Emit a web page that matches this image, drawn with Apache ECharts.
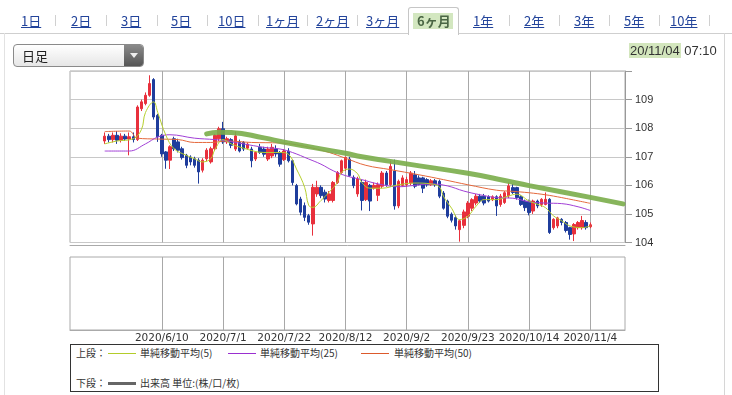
<!DOCTYPE html>
<html><head><meta charset="utf-8">
<script src="https://cdn.jsdelivr.net/npm/echarts@6/dist/echarts.min.js"></script>
<style>
html,body{margin:0;padding:0;background:#fff;}
#wrap{position:relative;width:732px;height:395px;overflow:hidden;font-family:"Noto Sans CJK JP","Noto Sans",sans-serif;}
#chart{position:absolute;left:0;top:0;width:732px;height:395px;}
.tab{position:absolute;top:12px;font-size:13px;line-height:18px;color:#23449b;text-decoration:underline;white-space:nowrap;z-index:3;}
.sep{position:absolute;top:15px;width:1px;height:11px;background:#d0d0d0;z-index:3;}
#hline{position:absolute;left:0;top:33px;width:732px;height:1px;background:#cfcfcf;z-index:2;}
#lborder{position:absolute;left:4px;top:33px;width:1px;height:362px;background:#e2e2e2;z-index:2;}
#rborder{position:absolute;left:724px;top:33px;width:1px;height:362px;background:#d6d6d6;z-index:2;}
#seltab{position:absolute;left:408px;top:7px;width:49px;height:27px;border:1px solid #c6c6c6;border-bottom:none;border-radius:3px 3px 0 0;background:#fff;z-index:3;}
#selhl{position:absolute;left:413px;top:13px;width:40px;height:16px;background:#d3e7c0;z-index:3;}
#seltxt{position:absolute;left:417px;top:12px;font-size:13px;line-height:18px;font-weight:bold;color:#4a6644;z-index:4;white-space:nowrap;}
#dd{position:absolute;left:13px;top:44px;width:129px;height:21px;border:1px solid #8a8a8a;border-radius:4px;background:linear-gradient(#ffffff,#e6e6e6);z-index:3;overflow:hidden;}
#ddtxt{position:absolute;left:8px;top:1px;font-size:13px;line-height:19px;color:#222;}
#ddbtn{position:absolute;right:0;top:0;width:19px;height:21px;background:linear-gradient(#8a8a8a,#555);}
#ddarr{position:absolute;left:6px;top:8px;width:0;height:0;border-left:4px solid transparent;border-right:4px solid transparent;border-top:5px solid #eee;}
#ts{position:absolute;left:629px;top:42px;font-family:"Liberation Sans",Arial,sans-serif;font-size:13px;line-height:17px;color:#333;z-index:3;white-space:nowrap;}
#ts span{background:#d3e6bd;padding:0 1px;}
#legend{position:absolute;left:70px;top:344px;width:587px;height:46px;border:1px solid #333;background:#fff;z-index:3;font-size:10px;color:#333;}
.lt{position:absolute;white-space:nowrap;line-height:12px;}
.ll{position:absolute;height:1px;width:28px;}
</style>
</head><body>
<div id="wrap">
<div id="chart"></div>
<div id="hline"></div><div id="lborder"></div><div id="rborder"></div>
<div id="tabs"></div>
<div id="seltab"></div><div id="selhl"></div><div id="seltxt">6ヶ月</div>
<div id="dd"><div id="ddtxt">日足</div><div id="ddbtn"><div id="ddarr"></div></div></div>
<div id="ts"><span>20/11/04</span> 07:10</div>
<div id="legend">
  <div class="lt" style="left:5px;top:2px;">上段：</div>
  <div class="ll" style="left:37px;top:8px;background:#b3cc2a;"></div>
  <div class="lt" style="left:69px;top:2px;">単純移動平均(5)</div>
  <div class="ll" style="left:157px;top:8px;background:#9a2fd0;"></div>
  <div class="lt" style="left:189px;top:2px;">単純移動平均(25)</div>
  <div class="ll" style="left:290px;top:8px;background:#dc5a2c;"></div>
  <div class="lt" style="left:323px;top:2px;">単純移動平均(50)</div>
  <div class="lt" style="left:5px;top:32px;">下段：</div>
  <div class="ll" style="left:37px;top:37px;height:3px;background:#666;"></div>
  <div class="lt" style="left:69px;top:32px;">出来高 単位:(株/口/枚)</div>
</div>
</div>
<script>
// ---- data ----
const tabLabels = ['1日','2日','3日','5日','10日','1ヶ月','2ヶ月','3ヶ月','6ヶ月','1年','2年','3年','5年','10年'];
const categories = [
'2020/5/11','2020/5/12','2020/5/13','2020/5/14','2020/5/15','2020/5/18','2020/5/19','2020/5/20','2020/5/21','2020/5/22',
'2020/5/25','2020/5/26','2020/5/27','2020/5/28','2020/5/29',
'2020/6/1','2020/6/2','2020/6/3','2020/6/4','2020/6/5','2020/6/8','2020/6/9','2020/6/10','2020/6/11','2020/6/12',
'2020/6/15','2020/6/16','2020/6/17','2020/6/18','2020/6/19','2020/6/22','2020/6/23','2020/6/24','2020/6/25','2020/6/26',
'2020/6/29','2020/6/30',
'2020/7/1','2020/7/2','2020/7/3','2020/7/6','2020/7/7','2020/7/8','2020/7/9','2020/7/10','2020/7/13','2020/7/14',
'2020/7/15','2020/7/16','2020/7/17','2020/7/20','2020/7/21','2020/7/22','2020/7/23','2020/7/24','2020/7/27','2020/7/28',
'2020/7/29','2020/7/30','2020/7/31',
'2020/8/3','2020/8/4','2020/8/5','2020/8/6','2020/8/7','2020/8/10','2020/8/11','2020/8/12','2020/8/13','2020/8/14',
'2020/8/17','2020/8/18','2020/8/19','2020/8/20','2020/8/21','2020/8/24','2020/8/25','2020/8/26','2020/8/27','2020/8/28',
'2020/8/31',
'2020/9/1','2020/9/2','2020/9/3','2020/9/4','2020/9/7','2020/9/8','2020/9/9','2020/9/10','2020/9/11','2020/9/14',
'2020/9/15','2020/9/16','2020/9/17','2020/9/18','2020/9/21','2020/9/22','2020/9/23','2020/9/24','2020/9/25','2020/9/28',
'2020/9/29','2020/9/30',
'2020/10/1','2020/10/2','2020/10/5','2020/10/6','2020/10/7','2020/10/8','2020/10/9','2020/10/12','2020/10/13','2020/10/14',
'2020/10/15','2020/10/16','2020/10/19','2020/10/20','2020/10/21','2020/10/22','2020/10/23','2020/10/26','2020/10/27','2020/10/28',
'2020/10/29','2020/10/30',
'2020/11/2','2020/11/3','2020/11/4','2020/11/5','2020/11/6','2020/11/9','2020/11/10','2020/11/11','2020/11/12','2020/11/13',
'2020/11/16'
];
const tickDates = ['2020/6/10','2020/7/1','2020/7/22','2020/8/12','2020/9/2','2020/9/23','2020/10/14','2020/11/4'];
const priceTicks = [104,105,106,107,108,109];
const candleStart = '2020/5/21';
// [open, close, low, high]
const ohlc = [
[107.55,107.72,107.45,107.85],[107.72,107.60,107.50,107.80],[107.60,107.75,107.50,107.85],[107.75,107.58,107.45,107.90],
[107.58,107.72,107.50,107.82],[107.72,107.62,107.55,107.80],[107.62,107.70,107.05,107.85],[107.70,107.60,107.50,107.85],
[107.60,108.74,107.55,108.80],[108.68,108.92,108.60,109.00],[108.86,109.15,108.80,109.25],[109.15,109.56,109.10,109.85],
[109.70,108.39,108.30,109.75],[108.45,107.70,107.52,108.50],[107.75,107.10,107.00,107.80],[107.17,106.88,106.58,107.20],
[106.88,107.35,106.57,107.40],
[107.63,107.28,107.20,107.70],[107.52,107.23,107.15,107.63],[107.28,106.97,106.90,107.35],[107.05,106.70,106.60,107.10],
[106.99,106.82,106.70,107.05],[106.93,106.70,106.62,107.00],[106.88,106.47,106.06,106.95],[106.53,106.88,106.45,106.95],
[106.93,107.23,106.85,107.30],[106.82,107.28,106.76,107.35],[107.28,107.75,107.20,107.80],[107.63,107.98,107.55,108.05],
[107.98,107.52,107.45,108.22],[107.52,107.63,107.45,107.70],
[107.60,107.40,107.30,107.65],[107.27,107.73,107.20,107.88],[107.50,107.20,107.15,107.60],[107.50,107.27,107.20,107.55],
[107.30,107.44,107.25,107.50],[107.27,106.86,106.63,107.35],[106.92,107.15,106.85,107.20],[107.33,107.15,107.10,107.45],
[107.27,107.09,107.00,107.35],[106.92,107.27,106.85,107.35],[107.03,107.33,106.95,107.45],[107.27,107.10,107.00,107.40],
[107.15,106.74,106.65,107.20],[106.90,107.20,106.85,107.27],[107.20,106.86,106.80,107.30],
[106.86,106.10,106.00,106.90],[105.99,105.35,105.30,106.05],[105.52,105.06,104.95,105.60],[105.29,104.88,104.75,105.40],
[104.94,104.71,104.62,105.00],[104.65,105.93,104.24,106.05],[105.70,105.93,105.60,106.16],[105.93,105.64,105.55,106.00],
[105.76,105.52,105.40,105.85],[105.47,105.70,105.40,105.80],[105.47,106.10,105.40,106.15],[106.10,106.45,106.05,106.50],
[106.45,106.86,106.40,106.90],[106.60,106.98,106.50,107.00],[106.92,106.34,106.30,107.00],[106.28,105.99,105.90,106.35],
[105.70,106.22,105.60,106.30],[106.10,105.47,105.12,106.20],
[105.50,106.10,105.45,106.20],[106.00,105.45,105.10,106.05],[105.90,106.00,105.85,106.10],[105.65,106.02,105.45,106.10],
[105.97,106.43,105.90,106.50],[106.43,106.02,105.95,106.50],[106.02,106.66,105.95,106.86],[106.50,105.28,105.15,106.90],
[105.28,106.14,105.20,106.20],[106.00,106.26,105.95,106.35],[106.02,106.20,105.95,106.30],[106.08,106.43,106.00,106.50],
[106.37,105.97,105.90,106.50],[106.26,106.03,106.00,106.35],[106.26,105.90,105.73,106.30],[106.20,106.02,105.95,106.25],
[106.02,106.16,105.98,106.22],[106.16,106.02,105.95,106.22],[106.14,105.62,105.55,106.20],[105.73,105.20,105.15,105.80],
[105.45,104.92,104.85,105.50],[104.99,104.78,104.70,105.05],[104.87,104.58,104.45,104.95],[104.45,104.76,104.03,104.80],
[104.60,105.07,104.50,105.15],
[104.92,105.38,104.85,105.45],[105.20,105.50,105.10,105.55],[105.38,105.62,105.30,105.70],[105.62,105.45,105.38,105.70],
[105.62,105.38,105.30,105.70],[105.60,105.45,105.40,105.65],[105.50,105.60,105.45,105.65],[105.60,105.28,104.93,105.65],
[105.33,105.62,105.25,105.70],[105.40,105.74,105.35,105.80],[105.63,105.98,105.55,106.10],[105.92,105.75,105.70,106.05],
[105.92,105.57,105.50,105.95],[105.60,105.33,105.28,105.65],[105.45,105.22,105.10,105.50],[105.45,105.05,104.95,105.50],
[105.10,105.45,105.00,105.50],[105.45,105.28,105.20,105.50],[105.33,105.51,105.25,105.55],[105.33,105.51,105.30,105.75],
[105.51,104.35,104.30,105.55],[104.52,104.81,104.45,104.85],[104.58,104.86,104.50,104.90],[104.81,104.70,104.60,104.85],
[104.70,104.42,104.35,104.75],[104.52,104.28,104.10,104.55],[104.30,104.63,104.05,104.68],[104.52,104.70,104.45,104.75],
[104.52,104.77,104.45,104.93],[104.70,104.52,104.45,104.78],[104.55,104.62,104.50,104.70]
];
// moving averages: [category index, value]
const ma5 = [[8,107.45],[11,107.55],[15,107.63],[17,107.95],[18,108.55],[20,108.92],[21,108.55],[23,107.75],[25,107.28],
[28,107.05],[30,106.93],[32,106.82],[34,106.93],[35,107.25],[37,107.6],[39,107.45],[42,107.3],[47,107.15],[51,107.15],
[53,107.09],[55,106.57],[57,105.93],[58,105.3],[59,105.23],[61,105.47],[63,105.76],[65,106.1],[66,106.45],[68,106.57],
[70,106.4],[71,106.1],[73,105.9],[76,105.9],[80,106.02],[84,106.08],[88,106.05],[90,105.95],[91,105.62],[93,105.2],
[95,104.8],[97,104.92],[99,105.27],[101,105.5],[104,105.5],[107,105.63],[109,105.69],[112,105.45],[114,105.34],
[116,105.22],[118,104.93],[120,104.76],[122,104.58],[125,104.52],[127,104.58]];
const ma25 = [[8,107.2],[14,107.2],[18,107.45],[21,107.69],[24,107.77],[30,107.65],[35,107.6],[38,107.55],[42,107.45],
[47,107.33],[51,107.27],[54,107.15],[58,106.92],[61,106.74],[64,106.51],[67,106.34],[71,106.2],[75,106.05],[80,105.95],
[84,106.0],[88,106.05],[92,105.98],[96,105.8],[100,105.67],[104,105.57],[108,105.55],[112,105.42],[116,105.38],
[120,105.36],[124,105.25],[127,105.12]];
const ma50 = [[8,107.88],[14,107.9],[16,107.65],[21,107.62],[26,107.6],[30,107.5],[34,107.5],[38,107.55],[44,107.5],
[51,107.48],[55,107.42],[59,107.3],[63,107.15],[67,106.95],[72,106.7],[78,106.55],[85,106.37],[91,106.2],[97,106.02],
[104,105.83],[108,105.79],[112,105.74],[116,105.67],[120,105.57],[127,105.37]];
const trend = [[33,107.8],[36,107.86],[39,107.85],[47,107.66],[52,107.51],[67,107.12],[71,107.0],[82,106.75],[97,106.42],
[106,106.17],[112,105.99],[127,105.58],[135,105.35]];

// ---- html tabs ----
const tabX = [21,71,121,171,218,266,316,366,417,473,524,574,624,670];
const sepX = [55,106,157,207,258,307,357,509,559,609,659,709];
const tabsEl = document.getElementById('tabs');
tabLabels.forEach((t,i)=>{ if(t==='6ヶ月') return; const d=document.createElement('div'); d.className='tab'; d.style.left=tabX[i]+'px'; d.textContent=t; tabsEl.appendChild(d);});
sepX.forEach(x=>{const d=document.createElement('div'); d.className='sep'; d.style.left=x+'px'; tabsEl.appendChild(d);});

// ---- chart ----
const startIdx = categories.indexOf(candleStart);
const candleData = categories.map((c,i)=>{ const k=i-startIdx; return (k>=0 && k<ohlc.length)? ohlc[k] : '-'; });
const showTick = (idx)=> tickDates.indexOf(categories[idx])>=0;

const chart = echarts.init(document.getElementById('chart'), null, {renderer:'canvas'});
const xCommon = {
  type:'category', data:categories, boundaryGap:true,
  axisTick:{show:false},
  splitLine:{show:true, interval:(idx)=>showTick(idx), alignWithLabel:true, lineStyle:{color:'#a8a8a8', width:1}}
};
chart.setOption({
  animation:false,
  backgroundColor:'transparent',
  grid:[
    {left:70, right:107, top:71, bottom:152.5, show:true, borderColor:'#aaa', borderWidth:1},
    {left:70, right:107, top:257, bottom:65, show:true, borderColor:'#aaa', borderWidth:1}
  ],
  xAxis:[
    Object.assign({}, xCommon, {gridIndex:0, axisLabel:{show:false}, offset:3, axisLine:{show:true, lineStyle:{color:'#aaa'}}}),
    Object.assign({}, xCommon, {gridIndex:1, axisLine:{show:true, lineStyle:{color:'#aaa'}},
      axisLabel:{show:true, interval:(idx)=>showTick(idx), color:'#333', fontSize:10.5, fontFamily:'DejaVu Sans', margin:3}})
  ],
  yAxis:[
    {type:'value', gridIndex:0, position:'right', min:priceTicks[0], max:110, interval:1, scale:true,
     axisLine:{show:true, lineStyle:{color:'#999'}},
     axisTick:{show:true, length:7, lineStyle:{color:'#999'}},
     axisLabel:{color:'#333', fontSize:11, fontFamily:'Liberation Sans', margin:10,
       formatter:(v)=> priceTicks.indexOf(v)>=0 ? String(v) : ''},
     splitLine:{show:true, lineStyle:{color:'#c8c8c8'}}},
    {type:'value', gridIndex:1, min:0, max:1, show:false, splitLine:{show:false}}
  ],
  series:[
    {type:'candlestick', xAxisIndex:0, yAxisIndex:0, data:candleData, barWidth:3,
     itemStyle:{color:'#e8303c', color0:'#1f3d9c', borderColor:'#e8303c', borderColor0:'#1f3d9c', borderWidth:1}},
    {type:'line', xAxisIndex:0, yAxisIndex:0, data:ma50, showSymbol:false, smooth:0.4,
     lineStyle:{color:'#e4683c', width:1}},
    {type:'line', xAxisIndex:0, yAxisIndex:0, data:ma25, showSymbol:false, smooth:0.4,
     lineStyle:{color:'#a13fd6', width:1}},
    {type:'line', xAxisIndex:0, yAxisIndex:0, data:ma5, showSymbol:false, smooth:0.4,
     lineStyle:{color:'#b6cf2e', width:1}},
    {type:'line', xAxisIndex:0, yAxisIndex:0, data:trend, showSymbol:false, smooth:0.5,
     lineStyle:{color:'#7aad4a', width:5, opacity:0.9, cap:'round'}}
  ]
});
</script>
</body></html>
